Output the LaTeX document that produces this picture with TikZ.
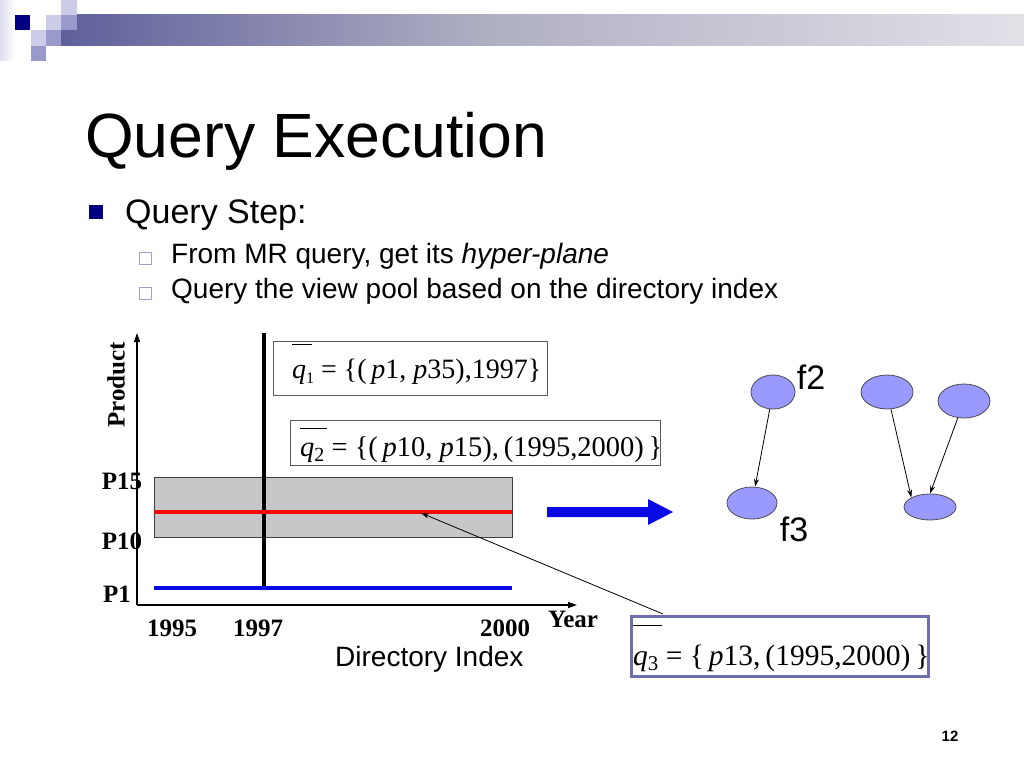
\documentclass[tikz,border=0pt]{standalone}
\usepackage{fontspec}
\setmainfont{Liberation Sans}
\newfontfamily\tnr{Liberation Serif}
\usetikzlibrary{arrows.meta,shapes.geometric}
\definecolor{navy}{RGB}{0,0,128}
\definecolor{lav}{RGB}{204,204,232}
\definecolor{lavm}{RGB}{153,153,204}
\definecolor{lavl}{RGB}{222,222,240}
\definecolor{nodefill}{RGB}{153,153,255}
\definecolor{boxgray}{RGB}{200,198,200}
\definecolor{qthree}{RGB}{110,110,170}
\definecolor{bulletedge}{RGB}{160,160,200}
\definecolor{bA}{RGB}{28,28,125}
\definecolor{bB}{RGB}{55,55,135}
\definecolor{bC}{RGB}{175,175,195}
\definecolor{bD}{RGB}{225,225,232}
\definecolor{bE}{RGB}{250,250,252}
\definecolor{lineblue}{RGB}{10,10,230}
\pgfdeclarehorizontalshading{barshade}{100bp}{color(0bp)=(bA); color(14bp)=(bB); color(47bp)=(bC); color(75bp)=(bD); color(100bp)=(bE)}
\newcommand\qv[4]{\leavevmode\rlap{\raisebox{#2}{\rule{#3}{0.9pt}}}\textit{q}\raisebox{-0.2em}{\fontsize{#4}{#4}\selectfont #1}}
\begin{document}
\begin{tikzpicture}[x=1pt,y=-1pt,
  txt/.style={inner sep=0pt,anchor=base west},
  serifb/.style={inner sep=0pt,font=\fontsize{25}{25}\selectfont\tnr\bfseries},
  formula/.style={inner sep=0pt,anchor=base west,font=\fontsize{28}{28}\selectfont\tnr},
  qbox/.style={draw=black!65,line width=1pt,inner sep=0pt,anchor=north west},
  gn/.style={ellipse,draw=black!70,line width=0.8pt,fill=nodefill,inner sep=0pt},
  arr/.style={-{Stealth[length=8pt,width=5pt]},line width=0.8pt},
  axis/.style={-{Triangle[length=9pt,width=6pt]},line width=1.4pt}]
\useasboundingbox (0,0) rectangle (1024,768);
\fill[white] (0,0) rectangle (1024,768);
% header decoration
\shade[left color=lavl,right color=white] (0,0) rectangle (15,60);
\shade[shading=barshade] (61,15) rectangle (1024,46);
\fill[navy] (15,15) rectangle (30,30);
\fill[lav] (46,15) rectangle (61,30);
\fill[lavm] (61,15) rectangle (77,30);
\fill[lav] (61,0) rectangle (77,15);
\fill[lav] (31,30) rectangle (46,46);
\fill[lavm] (46,30) rectangle (61,46);
\fill[lavm] (31,46) rectangle (46,61);
% title and bullets
\node[txt,font=\fontsize{62.5}{62.5}\selectfont] (title) at (85,157) {Query Execution};
\fill[navy] (89,205) rectangle (103,219);
\node[txt,font=\fontsize{34}{34}\selectfont] (b1) at (125,223) {Query Step:};
\draw[bulletedge,line width=1pt] (139,252) rectangle (151,264);
\draw[bulletedge,line width=1pt] (139,287) rectangle (151,299);
\node[txt,font=\fontsize{28}{28}\selectfont] (b2) at (171,263) {From MR query, get its \textit{hyper-plane}};
\node[txt,font=\fontsize{28}{28}\selectfont] (b3) at (171,298) {Query the view pool based on the directory index};
% chart
\fill[boxgray,draw=black!75,line width=0.8pt] (154,477) rectangle (512,537);
\draw[line width=4.5pt] (264,333) -- (264,588);
\draw[red,line width=4pt] (154,512) -- (512,512);
\draw[lineblue,line width=4pt] (154,588) -- (512,588);
\draw[axis] (137,605) -- (137,333);
\draw[axis] (137,605) -- (577,605);
\node[serifb,rotate=90] (prod) at (116,385) {Product};
\node[serifb] (p15) at (122,481) {P15};
\node[serifb] (p10) at (122,541) {P10};
\node[serifb] (p1) at (117,594) {P1};
\node[serifb] (y95) at (172,628) {1995};
\node[serifb] (y97) at (258,628) {1997};
\node[serifb] (y00) at (505,628) {2000};
\node[serifb] (year) at (573,619) {Year};
\node[txt,font=\fontsize{28}{28}\selectfont] (dir) at (335,666) {Directory Index};
% query boxes
\node[qbox,minimum width=274pt,minimum height=54pt] (q1box) at (273,341) {};
\node[formula] (q1) at (292,378) {\qv{1}{33pt}{20pt}{16} = \{(\,\textit{p}1, \textit{p}35),1997\}};
\node[qbox,minimum width=370pt,minimum height=45pt] (q2box) at (290,420) {};
\node[formula,font=\fontsize{28.5}{28.5}\selectfont\tnr] (q2) at (300,456) {\qv{2}{27pt}{27pt}{20} = \{(\,\textit{p}10, \textit{p}15),\,(1995,2000)\,\}};
\node[qbox,draw=qthree,line width=2.5pt,minimum width=297pt,minimum height=60pt] (q3box) at (630,615) {};
\node[formula,font=\fontsize{29.5}{29.5}\selectfont\tnr] (q3) at (633,665) {\qv{3}{39pt}{29pt}{21} = \{\,\textit{p}13,\,(1995,2000)\,\}};
\coordinate (q3top) at (663,614);
\coordinate (redpt) at (421,513);
\draw[arr] (q3top) -- (redpt);
% big arrow
\fill[lineblue] (547,507) -- (648,507) -- (648,499) -- (673,512) -- (648,525) -- (648,517) -- (547,517) -- cycle;
% graph
\node[gn,minimum width=44pt,minimum height=34pt] (a) at (773,392) {};
\node[gn,minimum width=50pt,minimum height=32pt] (b) at (752,503) {};
\node[gn,minimum width=52pt,minimum height=34pt] (c) at (887,392) {};
\node[gn,minimum width=52pt,minimum height=34pt] (d) at (964,401) {};
\node[gn,minimum width=52pt,minimum height=26pt] (e) at (930,507) {};
\draw[arr] (a) -- (b);
\draw[arr] (c) -- (e.north west);
\draw[arr] (d) -- (e.north);
\node[inner sep=0pt,font=\fontsize{34}{34}\selectfont] (f2) at (811,377) {f2};
\node[inner sep=0pt,font=\fontsize{34}{34}\selectfont] (f3) at (794,529) {f3};
\node[inner sep=0pt,font=\fontsize{15}{15}\selectfont\bfseries] (pg) at (950,736) {12};
\end{tikzpicture}
\end{document}
